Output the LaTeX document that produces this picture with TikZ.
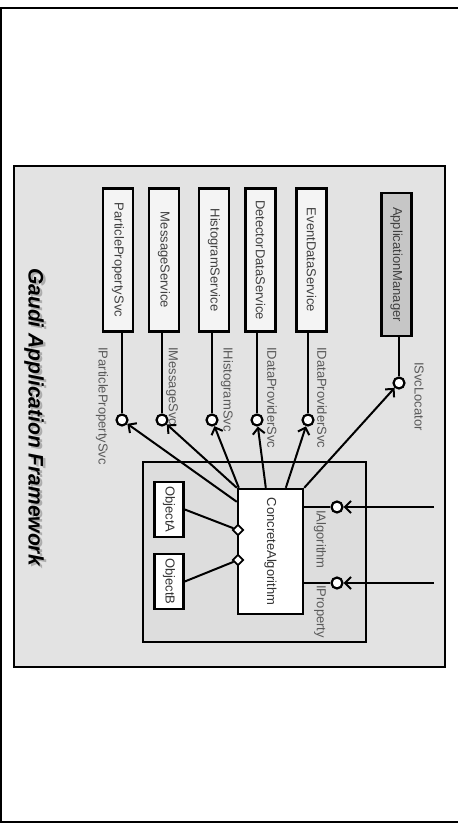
\documentclass[tikz,border=0pt]{standalone}
\usepackage{fontspec}
\setmainfont{Liberation Sans}
\usetikzlibrary{arrows.meta, shapes.geometric, positioning}
\newcommand{\svcfont}{\fontsize{13}{15}\selectfont}
\newcommand{\vtext}[1]{\rotatebox{-90}{#1}}
\tikzset{
  % Frame styles
  fwbox/.style={draw=black, line width=2.4pt, fill=gray!22},
  compbox/.style={draw=black, line width=2.4pt, fill=gray!27},
  % Box styles
  svcbox/.style={rectangle, draw=black, line width=2.8pt, fill=gray!9, minimum width=30pt, minimum height=143pt, inner sep=0pt, font=\svcfont, text=black!75},
  mgrbox/.style={svcbox, fill=gray!45},
  algbox/.style={rectangle, draw=black, line width=2.4pt, fill=white, minimum width=65pt, minimum height=125pt, inner sep=0pt, font=\svcfont, text=black!80},
  objbox/.style={rectangle, draw=black, line width=2.6pt, fill=white, minimum width=29pt, minimum height=55pt, inner sep=0pt, font=\svcfont, text=black!80},
  % Interfaces
  lolli/.style={circle, draw=black, line width=2.2pt, fill=white, minimum size=11pt, inner sep=0pt},
  aggr/.style={diamond, draw=black, line width=1.8pt, fill=white, minimum size=11pt, inner sep=0pt},
  link/.style={line width=2pt},
  uses/.style={link, -{Straight Barb[length=6pt, width=12pt]}},
  % Labels
  iflabel/.style={font=\svcfont, text=black!65, rotate=-90, anchor=west, inner sep=0pt},
  title/.style={font=\fontsize{21}{24}\selectfont\bfseries\itshape, rotate=-90, inner sep=0pt},
}

\begin{document}
\begin{tikzpicture}[x=1pt, y=-1pt]
  \useasboundingbox (0,0) rectangle (458,825);
  \draw[line width=1.8pt] (458,8) -- (1,8) -- (1,822) -- (458,822);

  % --- FRAMEWORK ---
  \draw[fwbox] (14,166) rectangle (445,667);
  \node[title, text=gray!65] (titleS) at (36.5,419) {Gaudi Application Framework};
  \node[title] (title) at (34,417) {Gaudi Application Framework};

  % --- SERVICES ---
  \node[svcbox] (pps)  at (118,260)   {\vtext{ParticlePropertySvc}};
  \node[svcbox] (msg)  at (164,260)   {\vtext{MessageService}};
  \node[svcbox] (hist) at (214,260)   {\vtext{HistogramService}};
  \node[svcbox] (det)  at (260.5,260) {\vtext{DetectorDataService}};
  \node[svcbox] (evt)  at (311.5,260) {\vtext{EventDataService}};
  \node[mgrbox] (mgr)  at (396.5,264.5) {\vtext{ApplicationManager}};

  % Service interfaces
  \node[lolli] (ipps)  at (122,420) {};
  \node[lolli] (imsg)  at (162,420) {};
  \node[lolli] (ihist) at (212,420) {};
  \node[lolli] (idet)  at (257,420) {};
  \node[lolli] (ievt)  at (308,420) {};
  \node[lolli] (imgr)  at (399,383) {};
  \foreach \s in {pps,msg,hist,det,evt,mgr}
    \draw[link] (\s.south -| i\s) -- (i\s);

  \node[iflabel] (ppsL)  at (102,347) {IParticlePropertySvc};
  \node[iflabel] (msgL)  at (172,347) {IMessageSvc};
  \node[iflabel] (histL) at (227,347) {IHistogramSvc};
  \node[iflabel] (detL)  at (272,347) {IDataProviderSvc};
  \node[iflabel] (evtL)  at (322,347) {IDataProviderSvc};
  \node[iflabel] (mgrL)  at (419,362) {ISvcLocator};

  % --- ALGORITHM ---
  \draw[compbox] (143,462) rectangle (366,642);
  \node[algbox] (alg) at (270.5,551.5) {\vtext{ConcreteAlgorithm}};
  \node[objbox] (obA) at (169,509.5) {\vtext{ObjectA}};
  \node[objbox] (obB) at (169,581.5) {\vtext{ObjectB}};
  \node[aggr] (dA) at (238,530) {};
  \node[aggr] (dB) at (238,560) {};
  \draw[link] (dA) -- (obA.east);
  \draw[link] (dB) -- (obB.east);

  % Uses
  \draw[uses] ([yshift=-14pt]alg.north west) -- (ipps);
  \draw[uses] (alg.north west) -- (imsg);
  \draw[uses] ([xshift=2pt]alg.north west) -- (ihist);
  \draw[uses] ([xshift=29pt]alg.north west) -- (idet);
  \draw[uses] ([xshift=49pt]alg.north west) -- (ievt);
  \draw[uses] (alg.north east) -- (imgr);

  % Algorithm interfaces
  \node[lolli] (ialg)  at (337,507) {};
  \node[lolli] (iprop) at (337,583) {};
  \draw[link] (alg.east |- ialg) -- (ialg);
  \draw[link] (alg.east |- iprop) -- (iprop);
  \coordinate (algIn)  at (434,507);
  \coordinate (propIn) at (434,583);
  \draw[uses] (algIn) -- (ialg);
  \draw[uses] (propIn) -- (iprop);
  \node[iflabel] (algL)  at (320,510) {IAlgorithm};
  \node[iflabel] (propL) at (320,585) {IProperty};

\end{tikzpicture}
\end{document}
